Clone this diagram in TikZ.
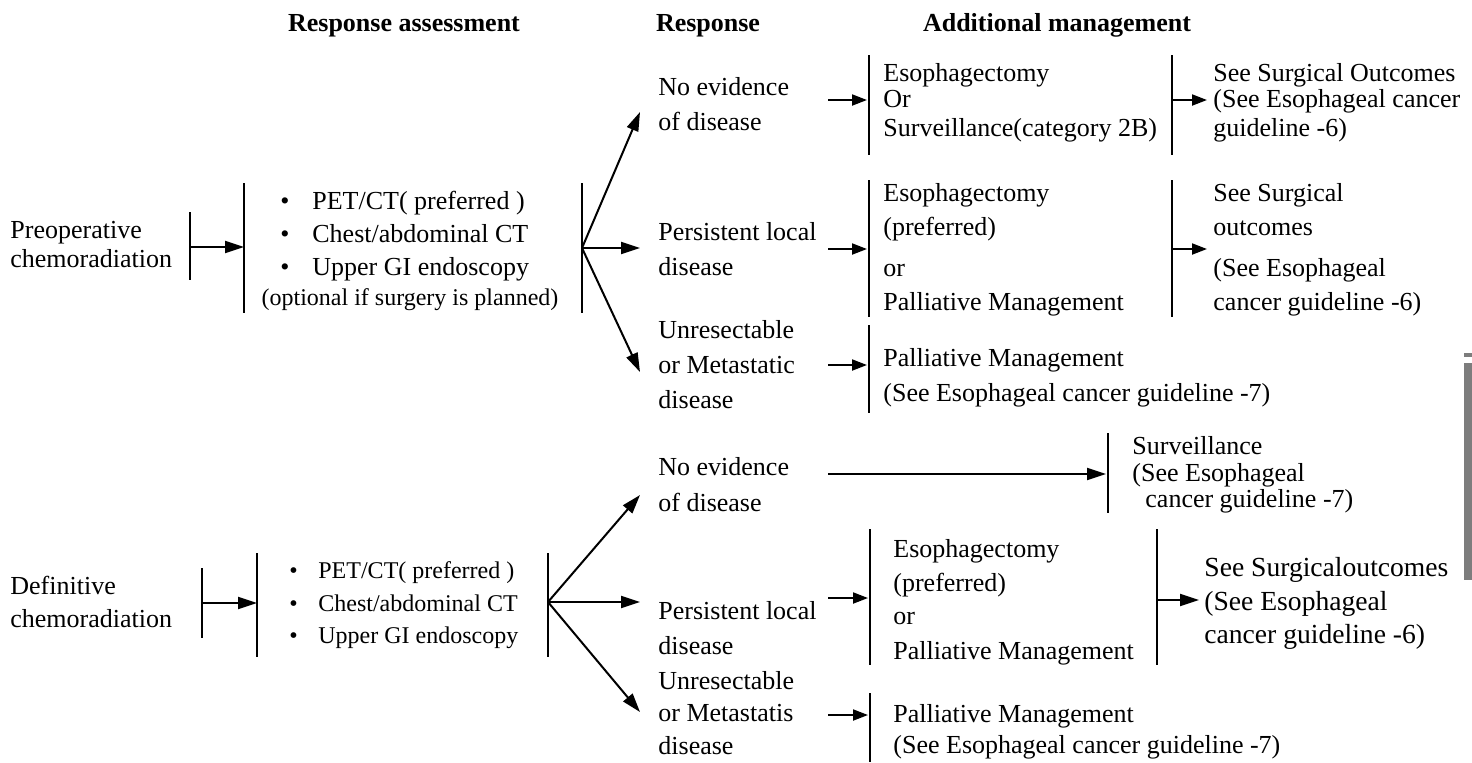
\documentclass[tikz,border=0pt]{standalone}
\usepackage{fontspec}
\setmainfont{Liberation Serif}
\usetikzlibrary{arrows.meta}
\definecolor{edgegray}{RGB}{125,125,125}
\begin{document}
\begin{tikzpicture}[x=0.5pt,y=-0.5pt,
  txt/.style={anchor=base west,inner sep=0pt,font=\fontsize{13}{15}\selectfont},
  btxt/.style={anchor=base west,inner sep=0pt,font=\fontsize{13.8}{16}\selectfont},
  stxt/.style={anchor=base west,inner sep=0pt,font=\fontsize{12}{14}\selectfont},
  hdr/.style={anchor=base,inner sep=0pt,font=\fontsize{13}{15}\selectfont\bfseries},
  bar/.style={line width=1.3pt},
  arr/.style={line width=1pt,-{Triangle[length=9.5pt,width=6pt]}},
  sarr/.style={line width=1pt,-{Triangle[length=7.5pt,width=5.5pt]}},
]
\useasboundingbox (0,0) rectangle (1472,762);

% headers
\node[hdr] (h1) at (404,31) {Response assessment};
\node[hdr] (h2) at (708,31) {Response};
\node[hdr] (h3) at (1057,31) {Additional management};

% ---------------- top section ----------------
\node[txt] (pre1) at (10,238) {Preoperative};
\node[txt] (pre2) at (10,267) {chemoradiation};
\coordinate (L1t) at (190,212); \coordinate (L1b) at (190,280);
\draw[bar] (L1t) -- (L1b);
\coordinate (L1m) at (190,247);
\coordinate (L2t) at (244,183); \coordinate (L2b) at (244,313);
\draw[bar] (L2t) -- (L2b);
\coordinate (L2m) at (244,247);
\draw[arr] (L1m) -- (L2m);

\node[txt] (tb1) at (280,209) {•};
\node[txt] (tb2) at (280,242) {•};
\node[txt] (tb3) at (280,275) {•};
\node[txt] (tl1) at (312,209) {PET/CT( preferred )};
\node[txt] (tl2) at (312,242) {Chest/abdominal CT};
\node[txt] (tl3) at (312,275) {Upper GI endoscopy};
\node[stxt,anchor=base] (tl4) at (410,305) {(optional if surgery is planned)};

\coordinate (L3t) at (582,183); \coordinate (L3b) at (582,313);
\draw[bar] (L3t) -- (L3b);
\coordinate (B1) at (582,248);
\coordinate (R1) at (640,112);
\coordinate (R2) at (640,248);
\coordinate (R3) at (640,372);
\draw[arr] (B1) -- (R1);
\draw[arr] (B1) -- (R2);
\draw[arr] (B1) -- (R3);

\node[txt] (ra1) at (658,95) {No evidence};
\node[txt] (ra2) at (658,130) {of disease};
\node[txt] (rb1) at (658,240) {Persistent local};
\node[txt] (rb2) at (658,275) {disease};
\node[txt] (rc1) at (658,338) {Unresectable};
\node[txt] (rc2) at (658,373) {or Metastatic};
\node[txt] (rc3) at (658,408) {disease};

% row A
\coordinate (sa1) at (828,100); \coordinate (sa2) at (867,100);
\draw[sarr] (sa1) -- (sa2);
\coordinate (A1t) at (869,55); \coordinate (A1b) at (869,155);
\draw[bar] (A1t) -- (A1b);
\node[txt] (aa1) at (883,81) {Esophagectomy};
\node[txt] (aa2) at (883,107) {Or};
\node[txt] (aa3) at (883,136) {Surveillance(category 2B)};
\coordinate (A2t) at (1172,55); \coordinate (A2b) at (1172,155);
\draw[bar] (A2t) -- (A2b);
\coordinate (A2m) at (1172,100); \coordinate (A3m) at (1207,100);
\draw[sarr] (A2m) -- (A3m);
\node[txt] (ab1) at (1213,81) {See Surgical Outcomes};
\node[txt] (ab2) at (1213,107) {(See Esophageal cancer};
\node[txt] (ab3) at (1213,136) {guideline -6)};

% row B
\coordinate (sb1) at (828,249); \coordinate (sb2) at (867,249);
\draw[sarr] (sb1) -- (sb2);
\coordinate (B1t) at (869,180); \coordinate (B1b) at (869,317);
\draw[bar] (B1t) -- (B1b);
\node[txt] (ba1) at (883,201) {Esophagectomy};
\node[txt] (ba2) at (883,235) {(preferred)};
\node[txt] (ba3) at (883,276) {or};
\node[txt] (ba4) at (883,310) {Palliative Management};
\coordinate (B2t) at (1172,180); \coordinate (B2b) at (1172,317);
\draw[bar] (B2t) -- (B2b);
\coordinate (B2m) at (1172,249); \coordinate (B3m) at (1207,249);
\draw[sarr] (B2m) -- (B3m);
\node[txt] (bb1) at (1213,201) {See Surgical};
\node[txt] (bb2) at (1213,235) {outcomes};
\node[txt] (bb3) at (1213,276) {(See Esophageal};
\node[txt] (bb4) at (1213,310) {cancer guideline -6)};

% row C
\coordinate (sc1) at (828,365); \coordinate (sc2) at (867,365);
\draw[sarr] (sc1) -- (sc2);
\coordinate (C1t) at (869,325); \coordinate (C1b) at (869,413);
\draw[bar] (C1t) -- (C1b);
\node[txt] (ca1) at (883,366) {Palliative Management};
\node[txt] (ca2) at (883,401) {(See Esophageal cancer guideline -7)};

% ---------------- bottom section ----------------
\node[txt] (def1) at (10,594) {Definitive};
\node[txt] (def2) at (10,627) {chemoradiation};
\coordinate (M1t) at (202,568); \coordinate (M1b) at (202,638);
\draw[bar] (M1t) -- (M1b);
\coordinate (M1m) at (202,603);
\coordinate (M2t) at (257,553); \coordinate (M2b) at (257,657);
\draw[bar] (M2t) -- (M2b);
\coordinate (M2m) at (257,603);
\draw[arr] (M1m) -- (M2m);

\node[stxt] (mb1) at (289,578) {•};
\node[stxt] (mb2) at (289,611) {•};
\node[stxt] (mb3) at (289,643) {•};
\node[stxt] (ml1) at (318,578) {PET/CT( preferred )};
\node[stxt] (ml2) at (318,611) {Chest/abdominal CT};
\node[stxt] (ml3) at (318,643) {Upper GI endoscopy};

\coordinate (M3t) at (548,553); \coordinate (M3b) at (548,657);
\draw[bar] (M3t) -- (M3b);
\coordinate (B2) at (548,602);
\coordinate (S1) at (640,495);
\coordinate (S2) at (640,602);
\coordinate (S3) at (640,712);
\draw[arr] (B2) -- (S1);
\draw[arr] (B2) -- (S2);
\draw[arr] (B2) -- (S3);

\node[txt] (sa1t) at (658,475) {No evidence};
\node[txt] (sa2t) at (658,511) {of disease};
\node[txt] (sb1t) at (658,619) {Persistent local};
\node[txt] (sb2t) at (658,654) {disease};
\node[txt] (sc1t) at (658,689) {Unresectable};
\node[txt] (sc2t) at (658,721) {or Metastatis};
\node[txt] (sc3t) at (658,754) {disease};

% row D (surveillance)
\coordinate (d1) at (828,474); \coordinate (d2) at (1106,474);
\draw[arr] (d1) -- (d2);
\coordinate (D1t) at (1108,433); \coordinate (D1b) at (1108,513);
\draw[bar] (D1t) -- (D1b);
\node[txt] (da1) at (1132,454) {Surveillance};
\node[txt] (da2) at (1132,481) {(See Esophageal};
\node[txt] (da3) at (1145,507) {cancer guideline -7)};

% row E
\coordinate (e1) at (828,598); \coordinate (e2) at (868,598);
\draw[sarr] (e1) -- (e2);
\coordinate (E1t) at (870,529); \coordinate (E1b) at (870,665);
\draw[bar] (E1t) -- (E1b);
\node[txt] (ea1) at (893,557) {Esophagectomy};
\node[txt] (ea2) at (893,591) {(preferred)};
\node[txt] (ea3) at (893,624) {or};
\node[txt] (ea4) at (893,659) {Palliative Management};
\coordinate (E2t) at (1157,529); \coordinate (E2b) at (1157,665);
\draw[bar] (E2t) -- (E2b);
\coordinate (E2m) at (1157,600); \coordinate (E3m) at (1199,600);
\draw[arr] (E2m) -- (E3m);
\node[btxt] (eb1) at (1204,576) {See Surgicaloutcomes};
\node[btxt] (eb2) at (1204,610) {(See Esophageal};
\node[btxt] (eb3) at (1204,643) {cancer guideline -6)};

% row F
\coordinate (f1) at (828,715); \coordinate (f2) at (868,715);
\draw[sarr] (f1) -- (f2);
\coordinate (F1t) at (870,693); \coordinate (F1b) at (870,762);
\draw[bar] (F1t) -- (F1b);
\node[txt] (fa1) at (893,722) {Palliative Management};
\node[txt] (fa2) at (893,753) {(See Esophageal cancer guideline -7)};

% page edge marks
\fill[edgegray] (1464,353) rectangle (1472,357);
\fill[edgegray] (1464,363) rectangle (1472,580);
\end{tikzpicture}
\end{document}
